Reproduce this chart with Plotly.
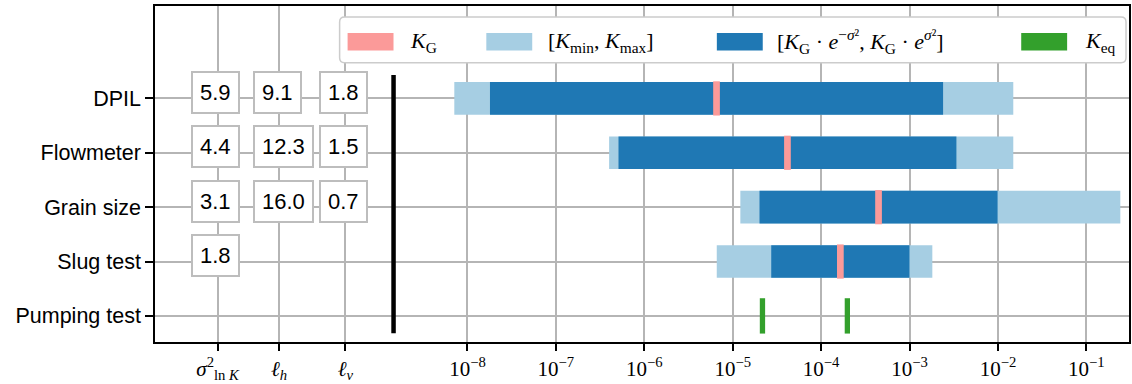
import plotly.graph_objects as go
import numpy as np

# ---------------- data ----------------
methods = ["DPIL", "Flowmeter", "Grain size", "Slug test", "Pumping test"]
K_G = [6.56e-6, 4.16e-5, 4.46e-4, 1.65e-4]          # geometric mean (first 4 methods)
K_min = [7.1e-9, 4.0e-7, 1.22e-5, 6.6e-6]
K_max = [1.49e-2, 1.49e-2, 0.242, 1.81e-3]
sigma2 = [5.9, 4.4, 3.1, 1.8]                         # variance of ln K
ell_h = [9.1, 12.3, 16.0]
ell_v = [1.8, 1.5, 0.7]
K_eq = [2.17e-5, 1.98e-4]                             # pumping test
col_labels = ["<i>σ</i><sup>2</sup><sub>ln <i>K</i></sub>", "<i>ℓ</i><sub><i>h</i></sub>", "<i>ℓ</i><sub><i>v</i></sub>"]
decades = [-8, -7, -6, -5, -4, -3, -2, -1]

# ---------------- layout constants ----------------
W, H = 1132, 384
ML, MR, MT, MB = 155, 1, 6, 40
col_pos = [-10.826, -10.131, -9.381]      # log10 x of the table columns
box_off = -0.30                            # left edge of table boxes relative to column (decades)
sep_x = -8.836                             # log10 x of separator line
XR = [-11.534, -0.518]
YR = [4.48, -1.70]

C_PINK, C_LB, C_DB, C_GR = "#fb9a99", "#a6cee3", "#1f78b4", "#33a02c"
GRID = "#b5b5b5"

rows = list(range(len(methods)))
n4 = rows[:4]

fig = go.Figure()

# light bars  [Kmin, Kmax]
fig.add_trace(go.Bar(orientation="h", y=n4, base=K_min,
                     x=[b - a for a, b in zip(K_min, K_max)],
                     width=0.6, marker=dict(color=C_LB, line=dict(width=0)),
                     showlegend=False, hoverinfo="skip"))
# dark bars [KG e^-s2, KG e^s2]
lo = [k * np.exp(-s) for k, s in zip(K_G, sigma2)]
hi = [k * np.exp(s) for k, s in zip(K_G, sigma2)]
fig.add_trace(go.Bar(orientation="h", y=n4, base=lo,
                     x=[b - a for a, b in zip(lo, hi)],
                     width=0.6, marker=dict(color=C_DB, line=dict(width=0)),
                     showlegend=False, hoverinfo="skip"))
# KG markers
hw = 10 ** 0.038
fig.add_trace(go.Bar(orientation="h", y=n4, base=[k / hw for k in K_G],
                     x=[k * hw - k / hw for k in K_G],
                     width=0.63, marker=dict(color=C_PINK, line=dict(width=0)),
                     showlegend=False, hoverinfo="skip"))
# Keq markers
hw2 = 10 ** 0.03
fig.add_trace(go.Bar(orientation="h", y=[4] * len(K_eq), base=[k / hw2 for k in K_eq],
                     x=[k * hw2 - k / hw2 for k in K_eq],
                     width=0.65, marker=dict(color=C_GR, line=dict(width=0)),
                     showlegend=False, hoverinfo="skip"))
# separator line
fig.add_trace(go.Scatter(x=[10 ** sep_x, 10 ** sep_x], y=[-0.43, 4.32], mode="lines",
                         line=dict(color="black", width=4.5), showlegend=False, hoverinfo="skip"))

fig.update_layout(barmode="overlay")

# table boxes
for ci, vals in enumerate([sigma2, ell_h, ell_v]):
    for ri, v in enumerate(vals):
        fig.add_annotation(x=col_pos[ci] + box_off, y=ri, xref="x", yref="y",
                           text=f"{v:.1f}", showarrow=False, xanchor="left", yanchor="middle",
                           yshift=6, font=dict(family="Liberation Sans", size=22, color="black"),
                           bgcolor="white", bordercolor="#bdbdbd", borderwidth=2, borderpad=7)

# ---------------- custom legend ----------------
pw, ph = W - ML - MR, H - MT - MB
def px(x):
    return (x - ML) / pw
def py(y):
    return 1 - (y - MT) / ph

lx0, lx1, ly0, ly1, r = 340, 1128, 17, 63, 5
path = (f"M {px(lx0 + r)},{py(ly0)} L {px(lx1 - r)},{py(ly0)} Q {px(lx1)},{py(ly0)} {px(lx1)},{py(ly0 + r)} "
        f"L {px(lx1)},{py(ly1 - r)} Q {px(lx1)},{py(ly1)} {px(lx1 - r)},{py(ly1)} "
        f"L {px(lx0 + r)},{py(ly1)} Q {px(lx0)},{py(ly1)} {px(lx0)},{py(ly1 - r)} "
        f"L {px(lx0)},{py(ly0 + r)} Q {px(lx0)},{py(ly0)} {px(lx0 + r)},{py(ly0)} Z")
fig.add_shape(type="path", path=path, xref="paper", yref="paper", layer="above",
              fillcolor="white", line=dict(color="#cccccc", width=1.5))

leg_items = [
    (C_PINK, 348, 409, "<i>K</i><sub>G</sub>"),
    (C_LB, 487, 547, "[<i>K</i><sub>min</sub>, <i>K</i><sub>max</sub>]"),
    (C_DB, 718, 776, "[<i>K</i><sub>G</sub> · <i>e</i><sup>−<i>σ</i>²</sup>, <i>K</i><sub>G</sub> · <i>e</i><sup><i>σ</i>²</sup>]"),
    (C_GR, 1023, 1085, "<i>K</i><sub>eq</sub>"),
]
for col, x0, tx, lab in leg_items:
    fig.add_shape(type="rect", xref="paper", yref="paper", layer="above",
                  x0=px(x0), x1=px(x0 + 46), y0=py(50.7), y1=py(33.2),
                  fillcolor=col, line=dict(width=0))
    fig.add_annotation(x=px(tx), y=py(42), xref="paper", yref="paper", text=lab,
                       showarrow=False, xanchor="left", yanchor="middle",
                       font=dict(family="Liberation Serif", size=22, color="black"))

# ---------------- axes ----------------
tickvals = [10 ** c for c in col_pos] + [10.0 ** d for d in decades]
ticktext = col_labels + [f"10<sup>−{-d}</sup>" for d in decades]

fig.update_xaxes(type="log", range=XR, tickvals=tickvals, ticktext=ticktext,
                 showgrid=True, gridcolor=GRID, gridwidth=1.5,
                 ticks="outside", ticklen=7, tickwidth=1.5, tickcolor="black",
                 showline=True, linecolor="black", linewidth=1.5, mirror=True,
                 zeroline=False,
                 tickfont=dict(family="Liberation Serif", size=21, color="black"))
fig.update_yaxes(range=YR, tickvals=rows, ticktext=methods,
                 showgrid=True, gridcolor=GRID, gridwidth=1.5,
                 ticks="outside", ticklen=8, tickwidth=1.5, tickcolor="black",
                 showline=True, linecolor="black", linewidth=1.5, mirror=True,
                 zeroline=False,
                 tickfont=dict(family="Liberation Sans", size=21.5, color="black"))

fig.update_layout(width=W, height=H, autosize=False,
                  margin=dict(l=ML, r=MR, t=MT, b=MB, pad=0),
                  plot_bgcolor="white", paper_bgcolor="white", showlegend=False)

fig.write_html("out.html")
